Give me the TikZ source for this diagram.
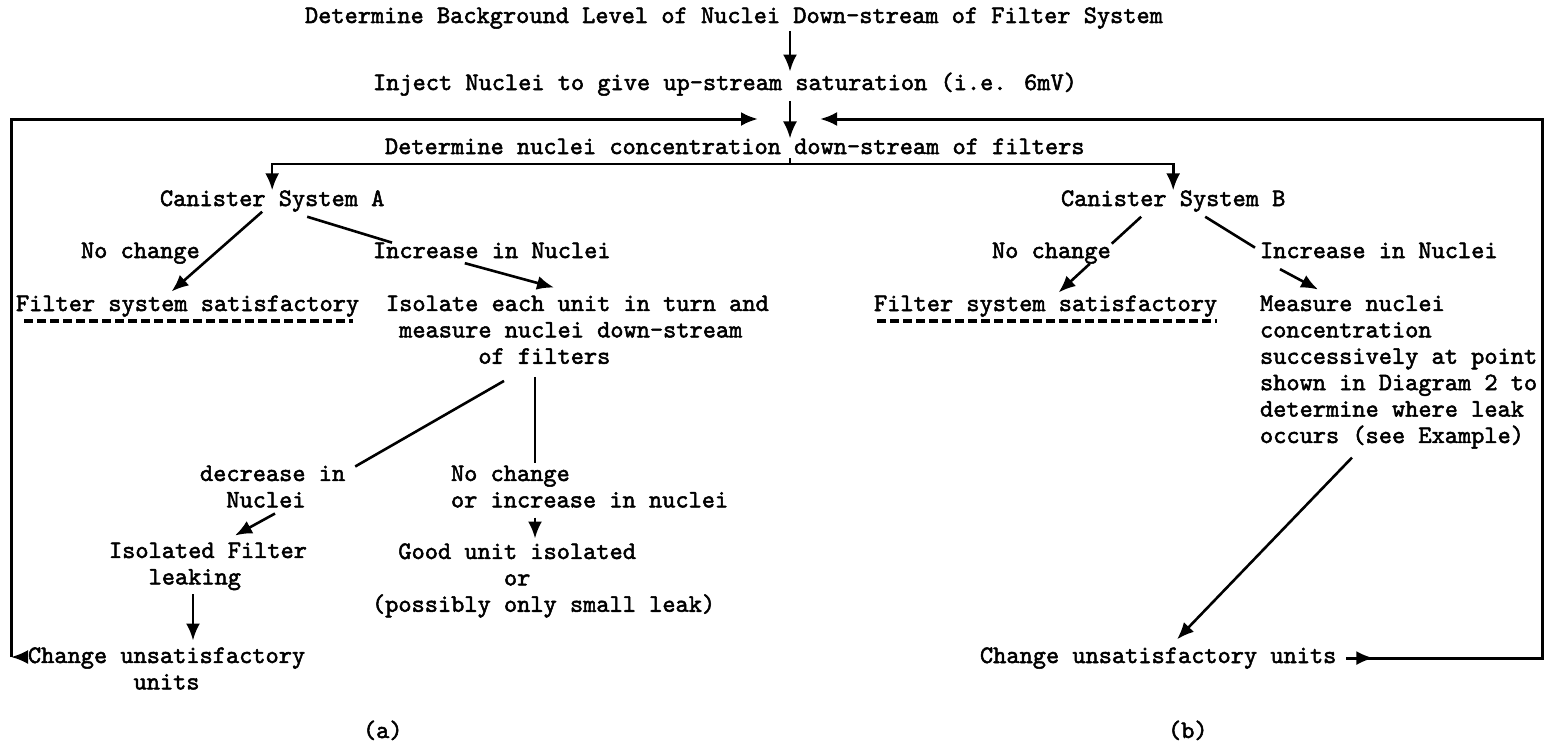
\documentclass[tikz,border=0pt]{standalone}
\usepackage{fontspec}
\newfontfamily\tw[FakeBold=2]{lmmono10-regular.otf}
\usetikzlibrary{arrows.meta}
\newlength\cw
\setlength\cw{13.2pt}
\newcommand\ind[1]{\hspace*{#1\cw}}
\begin{document}
\begin{tikzpicture}[x=1pt,y=-1pt,
  txt/.style={inner sep=0pt, outer sep=0pt, font=\tw\fontsize{25.14}{26.4}\selectfont},
  btxt/.style={txt, anchor=base west},
  mtxt/.style={txt, anchor=north west, align=left},
  ln/.style={line width=2.6pt},
  arr/.style={line width=2.6pt, -{Latex[length=17pt,width=14pt]}},
  frame/.style={line width=3pt, -{Latex[length=17pt,width=14pt]}},
  uline/.style={line width=4pt, dash pattern=on 9pt off 4pt}]
\fill[white] (0,0) rectangle (1554,744);
\useasboundingbox (0,0) rectangle (1554,744);

% texts
\node[btxt] (t1) at (305,23) {Determine Background Level of Nuclei Down-stream of Filter System};
\node[btxt] (t2) at (373,90) {Inject Nuclei to give up-stream saturation (i.e. 6mV)};
\node[btxt] (t3) at (385,154) {Determine nuclei concentration down-stream of filters};
\node[btxt] (canA) at (160,206) {Canister System A};
\node[btxt] (canB) at (1061,206) {Canister System B};
\node[btxt] (ncA) at (81,258) {No change};
\node[btxt] (incA) at (373,258) {Increase in Nuclei};
\node[btxt] (ncB) at (992,258) {No change};
\node[btxt] (incB) at (1260,258) {Increase in Nuclei};
\node[btxt] (fsA) at (16,311) {Filter system satisfactory};
\node[btxt] (fsB) at (874,311) {Filter system satisfactory};
\node[mtxt] (iso) at (386,292.5) {\strut Isolate each unit in turn and\\\ind{1}measure nuclei down-stream\\\ind{7}of filters};
\node[mtxt] (meas) at (1260,292.5) {\strut Measure nuclei\\concentration\\successively at point\\shown in Diagram 2 to\\determine where leak\\occurs (see Example)};
\node[mtxt] (dec) at (200,462.5) {\strut decrease in\\\ind{2}Nuclei};
\node[mtxt] (noch) at (451,462.5) {\strut No change\\or increase in nuclei};
\node[mtxt] (isoF) at (109,539.5) {\strut Isolated Filter\\\ind{3}leaking};
\node[mtxt] (good) at (372,540.5) {\strut\ind{2}Good unit isolated\\\ind{10}or\\(possibly only small leak)};
\node[mtxt] (chA) at (28,644.5) {\strut Change unsatisfactory\\\ind{8}units};
\node[btxt] (chB) at (980,663) {Change unsatisfactory units};
\node[btxt] (la) at (363,738) {(a)};
\node[btxt] (lb) at (1168,738) {(b)};

% underlines
\draw[uline] ([shift={(8,10)}]fsA.base west) -- ([shift={(337,10)}]fsA.base west);
\draw[uline] ([shift={(3,10)}]fsB.base west) -- ([shift={(343,10)}]fsB.base west);

% main spine
\coordinate (c790) at (790,0);
\coordinate (sp) at (790,164);
\draw[arr, shorten <=2pt, shorten >=1pt] (t1.south -| c790) -- (t2.north -| c790);
\draw[arr, shorten <=5pt] (t2.south -| c790) -- (t3.north -| c790);
\draw[ln, shorten <=4pt] (t3.south -| c790) -- (sp);
\draw[arr] (sp) -| (canA.north);
\draw[arr] (sp) -| (canB.north);

% system A
\draw[arr] ([shift={(-10,0)}]canA.south) -- ([shift={(-16,-4)}]fsA.north);
\draw[ln] ([shift={(35,5)}]canA.south) -- ([shift={(19,0)}]incA.north west);
\draw[arr] ([shift={(-27,5)}]incA.south) -- ([shift={(168,-5)}]iso.north west);
\draw[ln] ([shift={(118,17)}]iso.south west) -- ([shift={(10,4)}]dec.north east);
\draw[ln] ([shift={(149,13)}]iso.south west) -- ([shift={(149,0)}]iso.south west |- noch.north);
\draw[arr] ([shift={(75,6)}]dec.south west) -- ([shift={(126,-4)}]isoF.north west);
\draw[arr] ([shift={(84,10)}]noch.south west) -- ([shift={(163,-2)}]good.north west);
\draw[arr] ([shift={(84,4)}]isoF.south west) -- ([shift={(165,-4)}]chA.north west);

% system B
\draw[ln] ([shift={(-32,5)}]canB.south) -- ([shift={(1,1)}]ncB.north east);
\draw[arr] ([shift={(-21,0)}]ncB.south east) -- ([shift={(13,-3)}]fsB.north);
\draw[ln] ([shift={(32,5)}]canB.south) -- ([shift={(-5,5)}]incB.north west);
\draw[arr] ([shift={(20,11)}]incB.south west) -- ([shift={(58,-3)}]meas.north west);
\draw[arr] ([shift={(92,9)}]meas.south west) -- ([shift={(197,-8)}]chB.north west);

% feedback loops
\coordinate (fbR) at (1542,119);
\coordinate (fbRe) at (820,119);
\coordinate (fbL) at (11,119);
\coordinate (fbLb) at (11,657);
\coordinate (fbLe) at (758,119);
\draw[frame, shorten <=10pt] (chB.east) -- (chB.east -| fbR) -- (fbR) -- (fbRe);
\draw[arr, shorten <=10pt] (chB.east) -- ([shift={(37,0)}]chB.east);
\draw[frame] (fbLb) -- (fbL) -- (fbLe);
\draw[arr, shorten <=1pt] (chA.north west |- fbLb) -- (fbLb);
\end{tikzpicture}
\end{document}
